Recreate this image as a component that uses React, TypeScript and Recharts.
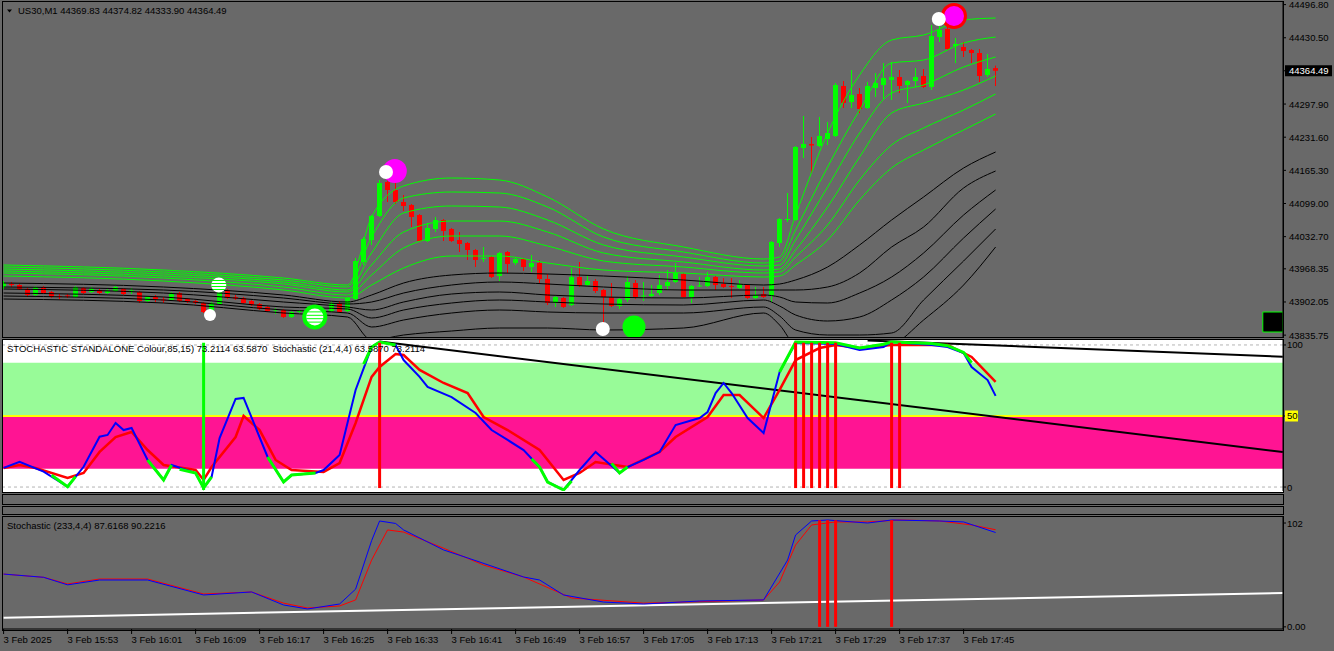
import React from "react";
import {
  ComposedChart,
  Bar,
  Line,
  Scatter,
  XAxis,
  YAxis,
  ReferenceLine,
  ReferenceArea,
} from "recharts";

const FONT = "Tahoma, 'Liberation Sans', Arial, sans-serif";
const BG = "#696969";
const X_DOMAIN: [number, number] = [-0.075, 159.925];

// US30 M1 bars, 3 Feb 2025 15:45 .. 17:49
const candleOpen = [
  43932, 43938, 43936, 43928, 43916, 43932, 43922, 43914, 43915, 43912,
  43930, 43922, 43926, 43920, 43924, 43928, 43923, 43922, 43904, 43912,
  43907, 43906, 43920, 43908, 43904, 43900, 43882, 43898, 43926, 43912,
  43910, 43904, 43898, 43892, 43885, 43886, 43872, 43882, 43882, 43872,
  43874, 43884, 43900, 43884, 43908, 43982, 44026, 44074, 44142, 44126,
  44102, 44096, 44076, 44024, 44048, 44066, 44048, 44026, 44020, 44006,
  43988, 43992, 43954, 44002, 43980, 43988, 43972, 43980, 43948, 43900,
  43910, 43896, 43952, 43936, 43944, 43926, 43912, 43894, 43906, 43940,
  43913, 43914, 43920, 43934, 43942, 43958, 43912, 43933, 43934, 43952,
  43938, 43934, 43930, 43936, 43910, 43918, 43914, 44020, 44066, 44066,
  44210, 44218, 44214, 44228, 44234, 44334, 44302, 44318, 44290, 44330,
  44336, 44346, 44352, 44336, 44344, 44354, 44332, 44432, 44448, 44414,
  44412, 44406, 44400, 44356, 44369.83,
];
const candleHigh = [
  43944, 43942, 43938, 43930, 43934, 43934, 43924, 43918, 43918, 43934,
  43932, 43932, 43928, 43928, 43934, 43930, 43930, 43924, 43914, 43916,
  43912, 43922, 43922, 43910, 43906, 43902, 43902, 43932, 43928, 43916,
  43912, 43906, 43900, 43894, 43890, 43888, 43884, 43886, 43884, 43886,
  43888, 43902, 43904, 43912, 43990, 44032, 44076, 44146, 44166, 44146,
  44116, 44098, 44078, 44060, 44072, 44068, 44050, 44042, 44022, 44008,
  44012, 43994, 44002, 44004, 43990, 43990, 43996, 43986, 43958, 43914,
  43912, 43970, 43982, 43956, 43948, 43928, 43940, 43910, 43954, 43946,
  43942, 43936, 43956, 43966, 43980, 43960, 43936, 43952, 43962, 43954,
  43950, 43950, 43946, 43938, 43932, 43932, 44024, 44070, 44120, 44214,
  44274, 44232, 44272, 44262, 44340, 44344, 44366, 44330, 44342, 44360,
  44380, 44382, 44366, 44346, 44370, 44368, 44456, 44468, 44460, 44430,
  44422, 44408, 44408, 44398, 44374.82,
];
const candleLow = [
  43928, 43932, 43926, 43912, 43914, 43918, 43910, 43908, 43910, 43910,
  43918, 43920, 43918, 43918, 43922, 43916, 43918, 43900, 43902, 43902,
  43900, 43904, 43902, 43900, 43898, 43880, 43870, 43896, 43908, 43906,
  43898, 43894, 43886, 43882, 43878, 43870, 43870, 43880, 43872, 43868,
  43872, 43882, 43880, 43882, 43906, 43976, 44016, 44072, 44102, 44098,
  44084, 44052, 44022, 44022, 44042, 44024, 44022, 44002, 43986, 43972,
  43982, 43950, 43944, 43960, 43976, 43964, 43962, 43940, 43896, 43892,
  43890, 43894, 43932, 43934, 43920, 43852, 43892, 43888, 43902, 43908,
  43904, 43912, 43916, 43926, 43940, 43910, 43900, 43932, 43932, 43926,
  43930, 43910, 43928, 43908, 43908, 43910, 43902, 44012, 44062, 44064,
  44190, 44160, 44212, 44216, 44232, 44290, 44290, 44280, 44288, 44312,
  44308, 44306, 44320, 44300, 44332, 44330, 44326, 44422, 44406, 44380,
  44392, 44380, 44342, 44352, 44333.9,
];
const candleClose = [
  43940, 43936, 43928, 43916, 43932, 43920, 43912, 43912, 43913, 43932,
  43920, 43928, 43920, 43924, 43932, 43918, 43925, 43904, 43912, 43908,
  43905, 43920, 43904, 43902, 43900, 43882, 43900, 43926, 43910, 43909,
  43900, 43896, 43888, 43884, 43887, 43872, 43882, 43884, 43874, 43884,
  43886, 43900, 43882, 43910, 43984, 44028, 44074, 44140, 44126, 44102,
  44094, 44072, 44024, 44050, 44066, 44044, 44024, 44018, 44006, 43986,
  43990, 43952, 44000, 43978, 43988, 43972, 43980, 43948, 43900, 43912,
  43892, 43952, 43934, 43944, 43924, 43912, 43894, 43908, 43942, 43912,
  43915, 43918, 43936, 43942, 43960, 43912, 43934, 43935, 43952, 43936,
  43932, 43932, 43938, 43910, 43916, 43912, 44022, 44068, 44068, 44212,
  44218, 44215, 44234, 44240, 44336, 44300, 44316, 44288, 44334, 44340,
  44350, 44352, 44334, 44344, 44352, 44332, 44434, 44446, 44408, 44418,
  44404, 44400, 44354, 44368, 44364.49,
];

// moving-average ribbon, read at these bar indexes
const ribbonIdx = [0, 20, 35, 43, 46, 50, 56, 62, 68, 75, 85, 95, 97, 99, 103, 107, 111, 115, 120, 124];
const greenRibbon = [
  [43976, 43966, 43950, 43936, 44072, 44134, 44150, 44146, 44112, 44048, 44012, 43988, 43992, 44076, 44240, 44356, 44426, 44436, 44466, 44470],
  [43972, 43962, 43946, 43932, 44032, 44110, 44122, 44120, 44092, 44032, 44002, 43980, 43984, 44046, 44172, 44286, 44380, 44386, 44420, 44432],
  [43968, 43958, 43942, 43926, 44000, 44080, 44094, 44092, 44066, 44016, 43992, 43974, 43976, 44026, 44132, 44240, 44320, 44336, 44372, 44392],
  [43964, 43954, 43938, 43922, 43976, 44042, 44064, 44064, 44042, 44000, 43982, 43966, 43968, 44006, 44092, 44192, 44280, 44300, 44326, 44354],
  [43960, 43950, 43932, 43916, 43956, 44010, 44034, 44034, 44014, 43984, 43972, 43960, 43962, 43992, 44056, 44146, 44216, 44250, 44286, 44318],
  [43954, 43944, 43926, 43910, 43936, 43970, 43994, 43994, 43980, 43966, 43960, 43952, 43954, 43976, 44026, 44106, 44170, 44206, 44246, 44278],
];
const blackRibbon = [
  [43940, 43932, 43916, 43902, 43916, 43940, 43956, 43960, 43958, 43954, 43946, 43936, 43938, 43946, 43972, 44016, 44066, 44112, 44170, 44202],
  [43932, 43926, 43910, 43898, 43902, 43920, 43936, 43942, 43938, 43932, 43926, 43926, 43926, 43926, 43932, 43960, 44012, 44052, 44130, 44164],
  [43928, 43920, 43902, 43892, 43886, 43902, 43918, 43922, 43916, 43912, 43910, 43916, 43912, 43902, 43900, 43920, 43952, 44000, 44076, 44126],
  [43920, 43912, 43892, 43888, 43870, 43886, 43900, 43906, 43902, 43898, 43896, 43906, 43894, 43876, 43864, 43872, 43906, 43952, 44030, 44088],
  [43914, 43906, 43886, 43880, 43852, 43866, 43880, 43886, 43882, 43880, 43880, 43892, 43874, 43846, 43836, 43836, 43840, 43906, 43984, 44048],
  [43908, 43900, 43880, 43872, 43826, 43836, 43844, 43850, 43850, 43846, 43850, 43880, 43856, 43816, 43806, 43806, 43816, 43866, 43936, 44012],
];

// arrow / signal dots on the price chart
const signalIdx = [25.8, 26.9, 38.9, 48.9, 47.8, 74.9, 78.8, 118.8, 116.9];
const signalPrice = [43876, 43936, 43872, 44164, 44162, 43848, 43852, 44474, 44468];
const signalKind = ["white", "stripe", "ring", "magenta", "white", "white", "green", "magentaRing", "white"];
const signalSize = [6, 7.5, 12.5, 12, 7, 7, 11.5, 13, 7];

const priceTicks = [44496.8, 44430.5, 44364.49, 44297.9, 44231.6, 44165.3, 44099.0, 44032.7, 43968.35, 43902.05, 43835.75];
const currentPrice = 44364.49;

// Stochastic (21,4,4) panel
const stochKIdx = [0, 2, 5, 8, 10, 12, 13, 14, 15, 16, 18, 20, 21, 24, 25, 26, 27, 29, 30, 33, 35, 36, 39, 40, 42, 44, 46, 47, 49, 50, 52, 53, 56, 59, 61, 63, 65, 67, 68, 70, 72, 74, 77, 78, 80, 82, 84, 87, 88, 89, 90, 91, 93, 95, 97, 99, 104, 107, 110, 111, 116, 118, 120, 121, 123, 124];
const stochK = [14.9, 19.1, 12.4, 2.2, 15.7, 36, 37.2, 45.3, 40.5, 41.9, 20.3, 6.8, 16.9, 11.5, 1.4, 8.8, 35.1, 61.5, 62.2, 22.3, 5.4, 10.1, 11.5, 13.5, 23.6, 67.6, 96.6, 100, 98, 87.8, 76.4, 69.6, 62.8, 52, 40.5, 33.8, 27, 15.5, 5.4, 0, 13.5, 25.7, 11.5, 15.5, 20.3, 25.7, 43.9, 48.6, 52.7, 65.5, 72.3, 65.5, 48.6, 38.5, 79.7, 99.3, 98.6, 94.6, 96.6, 100, 98, 96.6, 92.6, 83.1, 74.3, 63.6];
const stochDIdx = [0, 2, 4, 8, 10, 12, 14, 16, 18, 20, 24, 25, 26, 29, 30, 32, 34, 36, 40, 42, 44, 46, 47, 49, 50, 52, 55, 58, 60, 63, 67, 70, 72, 74, 78, 82, 84, 88, 90, 92, 95, 97, 99, 102, 104, 107, 111, 118, 121, 124];
const stochD = [14.9, 16.9, 14.9, 8.1, 11.5, 25.7, 35.8, 39.2, 27, 16.9, 13.5, 6.8, 15.5, 35.8, 50, 40.5, 20.3, 13.5, 12.2, 18.2, 45.3, 76.4, 83.1, 91.9, 91.2, 81.1, 72.3, 65.5, 49.3, 40.5, 27, 6.8, 11.5, 18.9, 15.5, 25.7, 35.8, 49.3, 64.2, 64.2, 48.6, 67.6, 87.8, 95.9, 98, 95.9, 98, 98, 89.9, 73];
const greenSegIdx = [[6, 8, 9], [18, 20, 21], [22, 24, 25, 26], [33, 35, 36, 39], [45, 46, 47, 49], [66, 67, 68, 70, 71], [76, 77, 78], [97, 99, 104, 107, 110, 111, 116, 118, 120, 121]];
const greenSegVal = [[10, 2.2, 9], [20.3, 6.8, 16.9], [14, 11.5, 1.4, 8.8], [22.3, 5.4, 10.1, 11.5], [85, 96.6, 100, 98], [21, 15.5, 5.4, 0, 6], [18, 11.5, 15.5], [79.7, 100, 99.5, 96, 98.5, 100, 99, 97.5, 93, 86]];
const stochRedBars = [47, 99, 100, 101, 102, 103, 104, 111, 112];
const stochGreenBars = [25];
const stochTrendFrom = [[47, 100.3], [108, 101]];
const stochTrendTo = [[159.9, 25.7], [159.9, 90.1]];
const stochTickVals = [98, 50, 2];
const stochTickLabels = ["100", "50", "0"];

// Stochastic (233,4,4) panel
const slowKIdx = [0, 5, 8, 12, 18, 25, 31, 35, 38, 42, 44, 46, 47, 49, 50, 55, 58, 65, 67, 70, 75, 80, 87, 95, 98, 99, 101, 103, 108, 111, 117, 120, 124];
const slowK = [49, 46, 39, 43.5, 43.5, 29.6, 32.4, 20.3, 16.6, 21.2, 35, 80, 98.3, 96, 90, 71.4, 64, 46.3, 43.5, 29.6, 23, 21.2, 24, 25, 62, 85.3, 98.3, 99.2, 96.4, 99.2, 98.3, 97.4, 87.6];
const slowDIdx = [0, 5, 8, 12, 18, 25, 31, 35, 38, 42, 44, 46, 48, 50, 55, 60, 65, 71, 80, 95, 97, 99, 101, 104, 108, 112, 117, 121, 124];
const slowD = [49, 46, 39.8, 44.4, 44.4, 30.5, 32.4, 22, 17.5, 19.4, 25, 62, 90, 88, 73, 57.4, 46.3, 26.8, 22, 25, 41.6, 76, 94.6, 97.4, 97.4, 99.2, 98.3, 94.6, 90.2];
const slowLevelIdx = [0, 159.9];
const slowLevel = [8.5, 31.4];
const slowRedBars = [102, 103, 104, 111];
const slowTickVals = [96.4, 0];
const slowTickLabels = ["102", "0.00"];

const xTickIdx = [0, 8, 16, 24, 32, 40, 48, 56, 64, 72, 80, 88, 96, 104, 112, 120];
const xTickLabels = [
  "3 Feb 2025", "3 Feb 15:53", "3 Feb 16:01", "3 Feb 16:09", "3 Feb 16:17", "3 Feb 16:25",
  "3 Feb 16:33", "3 Feb 16:41", "3 Feb 16:49", "3 Feb 16:57", "3 Feb 17:05", "3 Feb 17:13",
  "3 Feb 17:21", "3 Feb 17:29", "3 Feb 17:37", "3 Feb 17:45",
];

const candles = candleOpen.map((o, i) => ({ i, o, h: candleHigh[i], l: candleLow[i], c: candleClose[i] }));
const ribbonData = ribbonIdx.map((i, k) => {
  const row: any = { i };
  greenRibbon.forEach((s, n) => (row["g" + n] = s[k]));
  blackRibbon.forEach((s, n) => (row["b" + n] = s[k]));
  return row;
});
const signals = signalIdx.map((i, k) => ({ i, p: signalPrice[k], kind: signalKind[k], r: signalSize[k] }));
const toPts = (idx: number[], vals: number[]) => idx.map((i, k) => ({ i, v: vals[k] }));

function Candle(props: any) {
  const { x, y, width, height, payload } = props;
  if (!payload || x == null) return null;
  const { o, h, l, c } = payload;
  let top = y;
  let hgt = height;
  if (hgt < 0) {
    top = y + hgt;
    hgt = -hgt;
  }
  const span = h - l || 1;
  const toY = (v: number) => top + ((h - v) / span) * hgt;
  const color = c >= o ? "#00ff00" : "#ff0000";
  const cx = Math.floor(x + width / 2) + 0.5;
  const bTop = toY(Math.max(o, c));
  const bBot = toY(Math.min(o, c));
  return (
    <g>
      <line x1={cx} x2={cx} y1={top} y2={top + hgt} stroke={color} strokeWidth={1} />
      <rect x={cx - 2.5} y={bTop} width={5} height={Math.max(1, bBot - bTop)} fill={color} />
    </g>
  );
}

function Signal(props: any) {
  const { cx, cy, payload } = props;
  if (!payload) return null;
  const r = payload.r;
  const k = payload.kind;
  if (k === "white") return <circle cx={cx} cy={cy} r={r} fill="#ffffff" />;
  if (k === "green") return <circle cx={cx} cy={cy} r={r} fill="#00ff00" />;
  if (k === "magenta") return <circle cx={cx} cy={cy} r={r} fill="#ff00ff" />;
  if (k === "magentaRing")
    return <circle cx={cx} cy={cy} r={r - 1.5} fill="#ff00ff" stroke="#ff0000" strokeWidth={3} />;
  const inner = k === "ring" ? r - 4 : r;
  const stripes = [-0.6, -0.2, 0.2, 0.6].map((f) => f * inner);
  return (
    <g>
      {k === "ring" && <circle cx={cx} cy={cy} r={r} fill="#00ff00" />}
      <circle cx={cx} cy={cy} r={inner} fill="#ffffff" />
      {stripes.map((dy, n) => {
        const hw = Math.sqrt(inner * inner - dy * dy);
        return <line key={n} x1={cx - hw} x2={cx + hw} y1={cy + dy} y2={cy + dy} stroke="#00ff00" strokeWidth={1} />;
      })}
    </g>
  );
}

function PriceTick(props: any) {
  const { x, y, payload } = props;
  const v = payload.value;
  const cur = v === currentPrice;
  return (
    <g>
      <line x1={x} x2={x + 3} y1={y} y2={y} stroke="#000" />
      {cur && <rect x={x + 2} y={y - 5.5} width={47} height={11} fill="#000" />}
      <text x={x + 6} y={y + 3.5} fontSize={9.5} fontFamily={FONT} fill={cur ? "#fff" : "#000"}>
        {v.toFixed(2)}
      </text>
    </g>
  );
}

function LabelTick(labels: string[], vals: number[]) {
  return function Tick(props: any) {
    const { x, y, payload } = props;
    const label = labels[vals.indexOf(payload.value)];
    const hi = label === "50";
    return (
      <g>
        <line x1={x} x2={x + 3} y1={y} y2={y} stroke="#000" />
        {hi && <rect x={x + 2} y={y - 5.5} width={13} height={11} fill="#ffff00" />}
        <text x={x + 4} y={y + 3.5} fontSize={9.5} fontFamily={FONT} fill="#000">
          {label}
        </text>
      </g>
    );
  };
}

function TimeTick(props: any) {
  const { x, y, payload } = props;
  const label = xTickLabels[xTickIdx.indexOf(payload.value)];
  return (
    <g>
      <line x1={x} x2={x} y1={y} y2={y + 5} stroke="#000" />
      <text x={x} y={y + 14} fontSize={9.5} fontFamily={FONT} fill="#000">
        {label}
      </text>
    </g>
  );
}

const StochTick = LabelTick(stochTickLabels, stochTickVals);
const SlowTick = LabelTick(slowTickLabels, slowTickVals);

const box = (top: number, height: number, bg = "transparent"): React.CSSProperties => ({
  position: "absolute",
  left: 2,
  top,
  width: 1282,
  height,
  boxSizing: "border-box",
  border: "1px solid #000",
  background: bg,
});

export default function App() {
  return (
    <div style={{ position: "fixed", left: 0, top: 0, width: 1334, height: 651, background: BG, overflow: "hidden" }}>
      <div style={box(339, 154, "#ffffff")} />

      <div style={{ position: "absolute", left: 0, top: 0 }}>
        <ComposedChart width={1334} height={347} data={candles} margin={{ top: 2, right: 0, bottom: 10, left: 3 }}>
          <XAxis dataKey="i" type="number" domain={X_DOMAIN} allowDataOverflow hide />
          <YAxis
            orientation="right"
            width={51}
            domain={[43832, 44502]}
            allowDataOverflow
            ticks={priceTicks}
            interval={0}
            tickSize={0}
            tickMargin={0}
            axisLine={{ stroke: "#000" }}
            tick={PriceTick}
          />
          <ReferenceArea x1={157.4} x2={159.925} y1={43842} y2={43882} fill="#000" fillOpacity={1} stroke="#00ff00" strokeWidth={1} />
          {greenRibbon.map((_, n) => (
            <Line key={"g" + n} data={ribbonData} dataKey={"g" + n} type="monotone" stroke="#00ff00" strokeWidth={1} dot={false} isAnimationActive={false} />
          ))}
          {blackRibbon.map((_, n) => (
            <Line key={"b" + n} data={ribbonData} dataKey={"b" + n} type="monotone" stroke="#000000" strokeWidth={1} dot={false} isAnimationActive={false} />
          ))}
          <Scatter data={signals} dataKey="p" shape={Signal} isAnimationActive={false} />
          <Bar dataKey={(d: any) => [d.l, d.h]} barSize={5} shape={Candle} isAnimationActive={false} />
        </ComposedChart>
      </div>

      <div style={{ position: "absolute", left: 0, top: 339 }}>
        <ComposedChart width={1334} height={154} margin={{ top: 1, right: 0, bottom: 2, left: 3 }}>
          <XAxis dataKey="i" type="number" domain={X_DOMAIN} allowDataOverflow hide />
          <YAxis
            orientation="right"
            width={51}
            domain={[-0.68, 101.35]}
            allowDataOverflow
            ticks={stochTickVals}
            interval={0}
            tickSize={0}
            tickMargin={0}
            axisLine={{ stroke: "#000" }}
            tick={StochTick}
          />
          <ReferenceArea y1={50} y2={86} fill="#98fb98" fillOpacity={1} stroke="none" />
          <ReferenceArea y1={14.4} y2={50} fill="#ff1493" fillOpacity={1} stroke="none" />
          <ReferenceLine y={98} stroke="#b4b4b4" strokeDasharray="3 3" />
          <ReferenceLine y={2} stroke="#b4b4b4" strokeDasharray="3 3" />
          <ReferenceLine y={50} stroke="#ffff00" strokeWidth={2} />
          {stochTrendFrom.map((f, n) => (
            <ReferenceLine
              key={"t" + n}
              segment={[{ x: f[0], y: f[1] }, { x: stochTrendTo[n][0], y: stochTrendTo[n][1] }]}
              stroke="#000"
              strokeWidth={2}
            />
          ))}
          <Line data={toPts(stochDIdx, stochD)} dataKey="v" stroke="#ff0000" strokeWidth={2.5} dot={false} isAnimationActive={false} />
          <Line data={toPts(stochKIdx, stochK)} dataKey="v" stroke="#0000ff" strokeWidth={2} dot={false} isAnimationActive={false} />
          {greenSegIdx.map((idx, n) => (
            <Line key={"s" + n} data={toPts(idx, greenSegVal[n])} dataKey="v" stroke="#00ff00" strokeWidth={3} dot={false} isAnimationActive={false} />
          ))}
          {stochGreenBars.map((i) => (
            <ReferenceLine key={"gb" + i} segment={[{ x: i, y: 0 }, { x: i, y: 99.5 }]} stroke="#00ff00" strokeWidth={3} />
          ))}
          {stochRedBars.map((i) => (
            <ReferenceLine key={"rb" + i} segment={[{ x: i, y: 1.3 }, { x: i, y: 99.5 }]} stroke="#ff0000" strokeWidth={3} />
          ))}
        </ComposedChart>
      </div>

      <div style={{ position: "absolute", left: 0, top: 516 }}>
        <ComposedChart width={1334} height={135} margin={{ top: 1, right: 0, bottom: 0, left: 3 }}>
          <XAxis
            dataKey="i"
            type="number"
            domain={X_DOMAIN}
            allowDataOverflow
            height={22}
            ticks={xTickIdx}
            interval={0}
            tickSize={0}
            tickMargin={0}
            axisLine={{ stroke: "#000" }}
            tick={TimeTick}
          />
          <YAxis
            orientation="right"
            width={51}
            domain={[-2, 102]}
            allowDataOverflow
            ticks={slowTickVals}
            interval={0}
            tickSize={0}
            tickMargin={0}
            axisLine={{ stroke: "#000" }}
            tick={SlowTick}
          />
          <Line data={toPts(slowLevelIdx, slowLevel)} dataKey="v" stroke="#ffffff" strokeWidth={2} dot={false} isAnimationActive={false} />
          <Line data={toPts(slowDIdx, slowD)} dataKey="v" stroke="#ff0000" strokeWidth={1} dot={false} isAnimationActive={false} />
          <Line data={toPts(slowKIdx, slowK)} dataKey="v" stroke="#0000ff" strokeWidth={1} dot={false} isAnimationActive={false} />
          {slowRedBars.map((i) => (
            <ReferenceLine key={"sb" + i} segment={[{ x: i, y: 0 }, { x: i, y: 99 }]} stroke="#ff0000" strokeWidth={3} />
          ))}
        </ComposedChart>
      </div>

      <div style={box(1, 337)} />
      <div style={box(339, 154)} />
      <div style={box(494, 11)} />
      <div style={box(506, 9)} />
      <div style={box(516, 115)} />

      <svg width={1334} height={651} style={{ position: "absolute", left: 0, top: 0, pointerEvents: "none" }}>
        <polygon points="7,9.5 12,9.5 9.5,12.5" fill="#000" />
        <text x={18} y={14} fontSize={9.5} fontFamily={FONT} fill="#000">
          US30,M1  44369.83 44374.82 44333.90 44364.49
        </text>
        <text x={7} y={352} fontSize={9.5} fontFamily={FONT} fill="#000" xmlSpace="preserve">
          STOCHASTIC STANDALONE Colour,85,15) 73.2114 63.5870  Stochastic (21,4,4) 63.5870 73.2114
        </text>
        <text x={7} y={528.5} fontSize={9.5} fontFamily={FONT} fill="#000">
          Stochastic (233,4,4) 87.6168 90.2216
        </text>
      </svg>
    </div>
  );
}
